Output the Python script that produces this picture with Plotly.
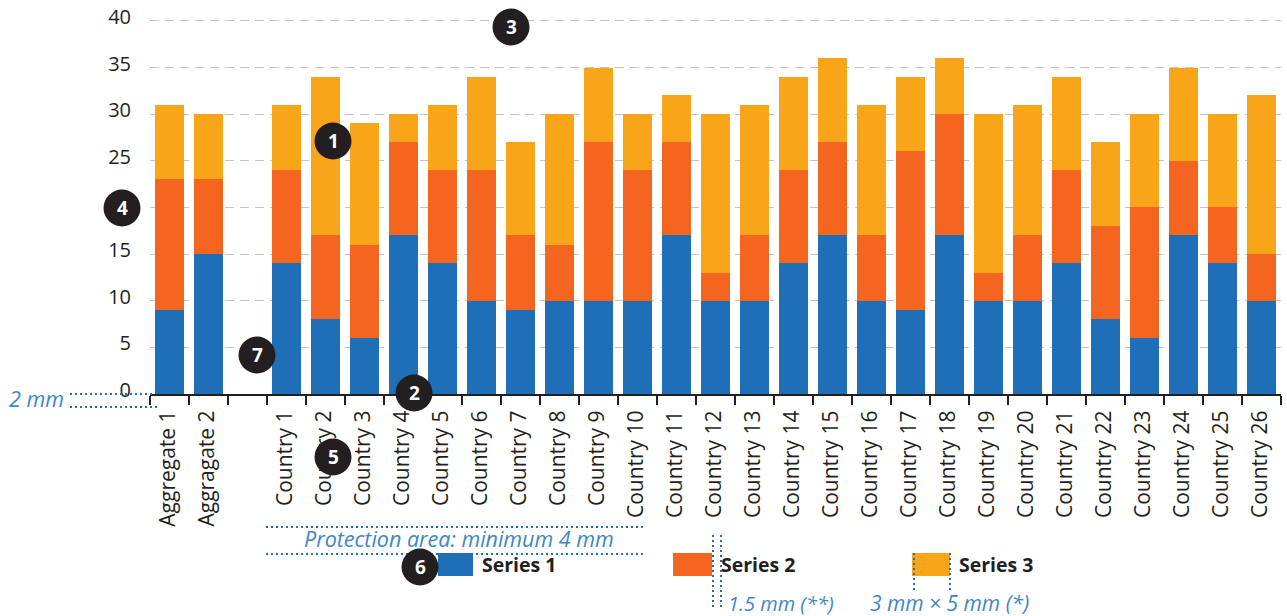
import plotly.graph_objects as go

categories = ["Aggregate 1", "Aggragate 2", " "] + [f"Country {i}" for i in range(1, 27)]
series_1 = [9, 15, None, 14, 8, 6, 17, 14, 10, 9, 10, 10, 10, 17, 10, 10, 14, 17, 10, 9, 17, 10, 10, 14, 8, 6, 17, 14, 10]
series_2 = [14, 8, None, 10, 9, 10, 10, 10, 14, 8, 6, 17, 14, 10, 3, 7, 10, 10, 7, 17, 13, 3, 7, 10, 10, 14, 8, 6, 5]
series_3 = [8, 7, None, 7, 17, 13, 3, 7, 10, 10, 14, 8, 6, 5, 17, 14, 10, 9, 14, 8, 6, 17, 14, 10, 9, 10, 10, 10, 17]
y_ticks = [0, 5, 10, 15, 20, 25, 30, 35, 40]

BLUE, RED, AMBER = "#1f6fb8", "#f46520", "#f9a51a"
INK, GUIDE, GUIDE_TEXT = "#231f20", "#1f6fb8", "#3d87c9"
FONT = "Open Sans"
W, H = 1287, 616
L, R, T, B = 150, 1281, 19, 394


def px(x):
    return (x - L) / (R - L)


def py(y):
    return (B - y) / (B - T)


fig = go.Figure()
for name, vals, col in [("Series 1", series_1, BLUE), ("Series 2", series_2, RED), ("Series 3", series_3, AMBER)]:
    fig.add_bar(x=categories, y=vals, name=name, marker=dict(color=col, line_width=0), showlegend=False)

shapes = []
annotations = []


def swatch(x0, x1, col):
    shapes.append(dict(type="rect", xref="paper", yref="paper", x0=px(x0), x1=px(x1), y0=py(553), y1=py(576),
                       fillcolor=col, line_width=0, layer="above"))


def dotted(x0, y0, x1, y1):
    shapes.append(dict(type="line", xref="paper", yref="paper", x0=px(x0), x1=px(x1), y0=py(y0), y1=py(y1),
                       line=dict(color=GUIDE, width=2, dash="2px,3px"), layer="above"))


def text(x, y, s, anchor="left", size=20, color=GUIDE_TEXT, bold=False, italic=False):
    annotations.append(dict(xref="paper", yref="paper", x=px(x), y=py(y), text=f"<b>{s}</b>" if bold else s,
                            xanchor=anchor, yanchor="middle", showarrow=False,
                            font=dict(family=FONT, size=size, color=color, style="italic" if italic else "normal"),
                            borderpad=0))


swatch(438, 473, BLUE)
swatch(673, 712, RED)
swatch(912, 950, AMBER)
text(481, 564, "Series 1", size=19.5, color=INK, bold=True)
text(720, 564, "Series 2", size=19.5, color=INK, bold=True)
text(958, 564, "Series 3", size=19.5, color=INK, bold=True)

dotted(70, 394, 155, 394)
dotted(70, 407, 157, 407)
dotted(266, 527, 645, 527)
dotted(266, 554, 645, 554)
dotted(713, 535, 713, 610)
dotted(721, 535, 721, 610)
dotted(914, 553, 914, 591)
dotted(950, 553, 950, 591)

text(8, 398, "2 mm", italic=True, size=21.5)
text(459, 538, "Protection area: minimum 4 mm", anchor="center", italic=True, size=21.5)
text(727, 603, "1.5 mm (**)", italic=True, size=20)
text(869, 603, "3 mm × 5 mm (*)", italic=True, size=21)

for label, cx, cy in [("1", 333, 141), ("2", 414, 393), ("3", 511, 27), ("4", 122, 208),
                      ("5", 333, 457), ("6", 420, 567), ("7", 257, 355)]:
    r = 18.5
    shapes.append(dict(type="circle", xref="paper", yref="paper", x0=px(cx - r), x1=px(cx + r),
                       y0=py(cy + r), y1=py(cy - r), fillcolor=INK, line_width=0, layer="above"))
    text(cx, cy, label, anchor="center", size=19, color="white", bold=True)

fig.update_layout(
    barmode="stack", bargap=10 / 39,
    width=W, height=H, autosize=False,
    margin=dict(l=L, r=W - R, t=T, b=H - B, pad=0, autoexpand=False),
    paper_bgcolor="white", plot_bgcolor="white",
    font=dict(family=FONT, size=18, color=INK),
    shapes=shapes, annotations=annotations,
    xaxis=dict(type="category", categoryorder="array", categoryarray=categories, tickmode="array",
               tickvals=categories, ticktext=categories, tickangle=-90, tickson="boundaries",
               ticks="outside", ticklen=9, tickwidth=2, tickcolor=INK, showline=True, linecolor=INK,
               linewidth=2, showgrid=False, ticklabelstandoff=6, ticklabelshift=-1, automargin=False,
               tickfont=dict(size=21, color=INK), fixedrange=True),
    yaxis=dict(range=[0, 40.2], tickvals=y_ticks, showgrid=True, gridcolor="#c4c4c4", griddash="9px,6px",
               gridwidth=1, zeroline=False, showline=False, ticks="", ticklabelstandoff=18, ticklabelshift=-4,
               automargin=False, tickfont=dict(size=20, color=INK), fixedrange=True),
)
fig.write_html(
    "out.html",
    config={"displayModeBar": False},
    post_script="document.documentElement.style.overflow='hidden';document.body.style.margin='0';",
)
